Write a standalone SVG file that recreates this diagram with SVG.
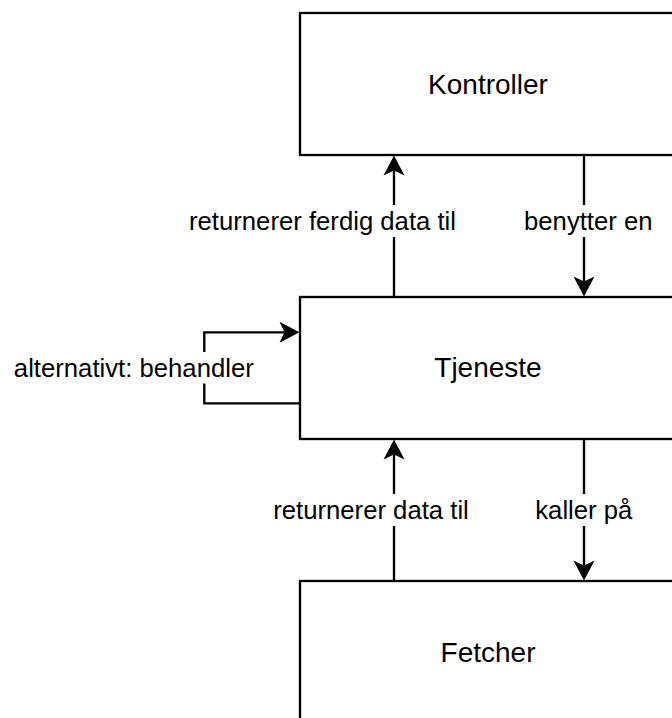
<svg xmlns="http://www.w3.org/2000/svg" width="672" height="718" viewBox="0 0 672 718">
  <style>
    .box { fill: #ffffff; stroke: #000000; stroke-width: 2.33; }
    .edge { fill: none; stroke: #000000; stroke-width: 2.33; }
    .node-label { font-family: "Liberation Sans", Helvetica, Arial, sans-serif; font-size: 28px; fill: #000000; text-anchor: middle; }
    .edge-label { font-family: "Liberation Sans", Helvetica, Arial, sans-serif; font-size: 25.7px; fill: #000000; text-anchor: middle; }
    .label-bg { fill: #ffffff; }
  </style>
  <defs>
    <!-- classic notched arrowhead; line ends at the notch, tip sits 15px ahead -->
    <marker id="arrow" markerUnits="userSpaceOnUse" viewBox="-6 -12 22 24" markerWidth="22" markerHeight="24" refX="0" refY="0" orient="auto">
      <path d="M15,0 L-5,-10.5 L0,0 L-5,10.5 Z" fill="#000000"/>
    </marker>
  </defs>

  <rect width="672" height="718" fill="#ffffff"/>

  <g id="kontroller">
    <rect class="box" x="300" y="13" width="377" height="142"/>
    <text class="node-label" x="488" y="94">Kontroller</text>
  </g>

  <g id="tjeneste">
    <rect class="box" x="300" y="297" width="377" height="142"/>
    <text class="node-label" x="488" y="377">Tjeneste</text>
  </g>

  <g id="fetcher">
    <rect class="box" x="300" y="581" width="377" height="142"/>
    <text class="node-label" x="488" y="662">Fetcher</text>
  </g>

  <g id="connectors">
    <!-- Tjeneste -> Kontroller -->
    <path class="edge" d="M394,297 V170.5" marker-end="url(#arrow)"/>
    <rect class="label-bg" x="188" y="205" width="269" height="32"/>
    <text class="edge-label" x="322.5" y="230">returnerer ferdig data til</text>

    <!-- Kontroller -> Tjeneste -->
    <path class="edge" d="M584,155 V281.5" marker-end="url(#arrow)"/>
    <rect class="label-bg" x="523" y="205" width="131" height="32"/>
    <text class="edge-label" x="588.3" y="230">benytter en</text>

    <!-- Tjeneste self-loop -->
    <path class="edge" d="M300,403.3 H204.3 V332.3 H284.5" marker-end="url(#arrow)"/>
    <rect class="label-bg" x="12" y="352" width="244" height="31.5"/>
    <text class="edge-label" x="133.8" y="376.5">alternativt: behandler</text>

    <!-- Fetcher -> Tjeneste -->
    <path class="edge" d="M394,581 V454.5" marker-end="url(#arrow)"/>
    <rect class="label-bg" x="272" y="494" width="198" height="32"/>
    <text class="edge-label" x="371" y="518.5">returnerer data til</text>

    <!-- Tjeneste -> Fetcher -->
    <path class="edge" d="M584,439 V565.5" marker-end="url(#arrow)"/>
    <rect class="label-bg" x="534" y="494" width="100" height="32"/>
    <text class="edge-label" x="583.8" y="518.5">kaller på</text>
  </g>
</svg>
